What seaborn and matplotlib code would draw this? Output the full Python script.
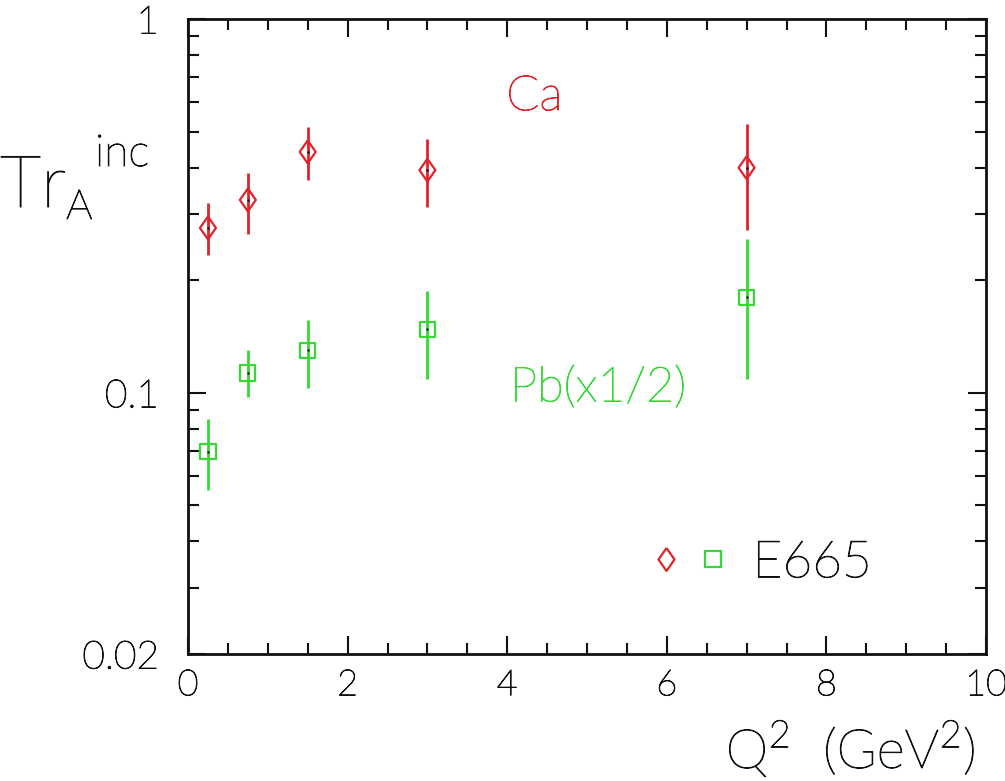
import numpy as np
import pandas as pd
import matplotlib
matplotlib.use("Agg")
import matplotlib.pyplot as plt
import matplotlib.ticker as mticker
import matplotlib.patheffects as pe
from matplotlib.lines import Line2D
from matplotlib.legend_handler import HandlerTuple
import seaborn as sns

# data
q2 = [0.25, 0.75, 1.5, 3.0, 7.0]
ca = [0.276, 0.328, 0.441, 0.394, 0.40]
ca_lo = [0.233, 0.266, 0.371, 0.314, 0.272]
ca_hi = [0.322, 0.387, 0.514, 0.477, 0.524]
pb = [0.0695, 0.113, 0.130, 0.148, 0.180]
pb_lo = [0.0548, 0.0974, 0.103, 0.109, 0.109]
pb_hi = [0.085, 0.130, 0.157, 0.187, 0.258]

red = '#e0222a'
green = '#36d836'
ink = '#111111'

sns.set_style("ticks")
plt.rcParams['font.family'] = ['Lato', 'DejaVu Sans']
plt.rcParams['font.weight'] = 'light'
plt.rcParams['text.color'] = ink
plt.rcParams['mathtext.fontset'] = 'custom'
plt.rcParams['mathtext.rm'] = 'Lato:light'


def thin(color):
    # light font, slightly darkened so it reads like the thin plotter font
    return [pe.withStroke(linewidth=0.7, foreground=color)]


df = pd.DataFrame({'q2': q2, 'ca': ca, 'pb': pb})

fig = plt.figure(figsize=(10.05, 7.81), dpi=100)
ax = fig.add_axes([188/1005, 127/781, 798/1005, 635/781])

diamond = [(0, 1), (0.7, 0), (0, -1), (-0.7, 0), (0, 1)]

ax.errorbar(q2, ca, yerr=[np.array(ca) - np.array(ca_lo), np.array(ca_hi) - np.array(ca)],
            fmt='none', ecolor=red, elinewidth=2, capsize=0)
ax.errorbar(q2, pb, yerr=[np.array(pb) - np.array(pb_lo), np.array(pb_hi) - np.array(pb)],
            fmt='none', ecolor=green, elinewidth=2, capsize=0)
sns.scatterplot(data=df, x='q2', y='ca', marker=diamond, s=270, facecolor='none',
                edgecolor=red, linewidth=1.6, ax=ax, zorder=3)
sns.scatterplot(data=df, x='q2', y='pb', marker='s', s=120, facecolor='none',
                edgecolor=green, linewidth=1.6, ax=ax, zorder=3)
# tiny centre dots
sns.scatterplot(data=df, x='q2', y='ca', marker='o', s=3, color=ink, linewidth=0, ax=ax, zorder=4)
sns.scatterplot(data=df, x='q2', y='pb', marker='o', s=3, color=ink, linewidth=0, ax=ax, zorder=4)

ax.set_yscale('log')
ax.set_xlim(0, 10)
ax.set_ylim(0.02, 1)
ax.set_xticks([0, 2, 4, 6, 8, 10])
ax.xaxis.set_minor_locator(mticker.MultipleLocator(0.5))
ax.set_yticks([0.02, 0.1, 1])
ax.set_yticklabels(['0.02', '0.1', '1'])
ax.yaxis.set_minor_locator(mticker.LogLocator(base=10, subs=np.arange(2, 10)))
ax.yaxis.set_minor_formatter(mticker.NullFormatter())
ax.tick_params(which='both', direction='in', top=True, right=True, width=1.5,
               color=ink, labelcolor=ink)
ax.tick_params(which='major', length=13)
ax.tick_params(which='minor', length=8)
ax.tick_params(axis='x', which='major', labelsize=26, pad=11)
ax.tick_params(axis='y', which='major', labelsize=28, pad=21)
for lab in ax.get_xticklabels() + ax.get_yticklabels():
    lab.set_path_effects(thin(ink))
for sp in ax.spines.values():
    sp.set_linewidth(2)
    sp.set_color(ink)
ax.set_xlabel('')
ax.set_ylabel('')

ax.text(4.34, 0.62, 'Ca', color=red, fontsize=35, ha='center', va='center',
        path_effects=thin(red))
ax.text(5.14, 0.103, 'Pb(x1/2)', color=green, fontsize=35, ha='center', va='center',
        path_effects=thin(green))

h1 = Line2D([], [], marker=diamond, ls='none', ms=16.5, mfc='none', mec=red, mew=1.6)
h2 = Line2D([], [], marker='s', ls='none', ms=11, mfc='none', mec=green, mew=1.6)
leg = ax.legend([(h1, h2)], ['E665'], handler_map={tuple: HandlerTuple(ndivide=None, pad=0)},
                loc='center left', bbox_to_anchor=(642/1005, 218/781),
                bbox_transform=fig.transFigure, frameon=False, fontsize=37,
                handlelength=1.85, handletextpad=0.3, borderpad=0, borderaxespad=0)
for t in leg.get_texts():
    t.set_path_effects(thin(ink))

# axis titles
fig.text(0.0, 574/781, 'Tr', fontsize=52, ha='left', va='baseline', path_effects=thin(ink))
fig.text(66/1005, 562/781, 'A', fontsize=30, ha='left', va='baseline', path_effects=thin(ink))
fig.text(95/1005, 615/781, 'inc', fontsize=32, ha='left', va='baseline', path_effects=thin(ink))
fig.text(975/1005, 13/781, r'Q$^2$  (GeV$^2$)', fontsize=39, ha='right', va='baseline',
         path_effects=thin(ink))

fig.savefig('out.png', dpi=100)
